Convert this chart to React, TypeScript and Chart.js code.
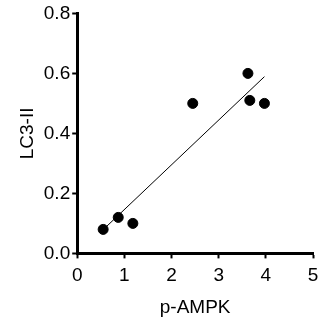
import React, { useEffect, useRef } from "react";
import { Chart, registerables } from "chart.js";

Chart.register(...registerables);

const xValues = [0.55, 0.87, 1.18, 2.45, 3.62, 3.66, 3.97];
const yValues = [0.08, 0.12, 0.1, 0.5, 0.6, 0.51, 0.5];
const xTicks = [0, 1, 2, 3, 4, 5];
const yTicks = [0, 0.2, 0.4, 0.6, 0.8];
const xTitle = "p-AMPK";
const yTitle = "LC3-II";

function fitLine(xs: number[], ys: number[]) {
  const n = xs.length;
  const mx = xs.reduce((a, b) => a + b, 0) / n;
  const my = ys.reduce((a, b) => a + b, 0) / n;
  let sxy = 0;
  let sxx = 0;
  for (let i = 0; i < n; i++) {
    sxy += (xs[i] - mx) * (ys[i] - my);
    sxx += (xs[i] - mx) * (xs[i] - mx);
  }
  const slope = sxy / sxx;
  const intercept = my - slope * mx;
  const x0 = Math.min(...xs);
  const x1 = Math.max(...xs);
  return [
    { x: x0, y: intercept + slope * x0 },
    { x: x1, y: intercept + slope * x1 },
  ];
}

export default function App() {
  const ref = useRef<HTMLCanvasElement | null>(null);
  useEffect(() => {
    document.body.style.margin = "0";
    const font = { family: "'Liberation Sans', Arial, Helvetica, sans-serif", size: 19 };
    const chart = new Chart(ref.current!, {
      type: "scatter",
      data: {
        datasets: [
          {
            type: "line",
            data: fitLine(xValues, yValues),
            borderColor: "#000",
            borderWidth: 1,
            pointRadius: 0,
            fill: false,
          } as any,
          {
            data: xValues.map((x, i) => ({ x, y: yValues[i] })),
            backgroundColor: "#000",
            borderColor: "#000",
            pointRadius: 5,
            pointHoverRadius: 5,
          },
        ],
      },
      options: {
        responsive: false,
        animation: false,
        layout: { padding: { left: 16, right: 0, top: 10, bottom: 10 } },
        plugins: { legend: { display: false }, tooltip: { enabled: false } },
        scales: {
          x: {
            type: "linear",
            min: 0,
            max: 5,
            afterBuildTicks: (s: any) => {
              s.ticks = xTicks.map((v) => ({ value: v }));
            },
            afterFit: (s: any) => {
              s.paddingRight = 9;
            },
            border: { display: true, color: "#000", width: 3 },
            grid: {
              drawOnChartArea: false,
              drawTicks: true,
              tickLength: 5,
              tickWidth: 2,
              tickColor: "#000",
            },
            ticks: { color: "#000", font, padding: 6, callback: (v: any) => String(v) },
            title: { display: true, text: xTitle, color: "#000", font, padding: { top: 3, bottom: 0 } },
          },
          y: {
            type: "linear",
            min: 0,
            max: 0.8,
            afterBuildTicks: (s: any) => {
              s.ticks = yTicks.map((v) => ({ value: v }));
            },
            border: { display: true, color: "#000", width: 3 },
            grid: {
              drawOnChartArea: false,
              drawTicks: true,
              tickLength: 5,
              tickWidth: 2,
              tickColor: "#000",
            },
            ticks: { color: "#000", font, padding: 2, callback: (v: any) => Number(v).toFixed(1) },
            title: { display: true, text: yTitle, color: "#000", font, padding: { top: 0, bottom: 3 } },
          },
        },
      },
    });
    return () => chart.destroy();
  }, []);
  return (
    <div style={{ width: 322, height: 329 }}>
      <canvas ref={ref} width={322} height={329} />
    </div>
  );
}
